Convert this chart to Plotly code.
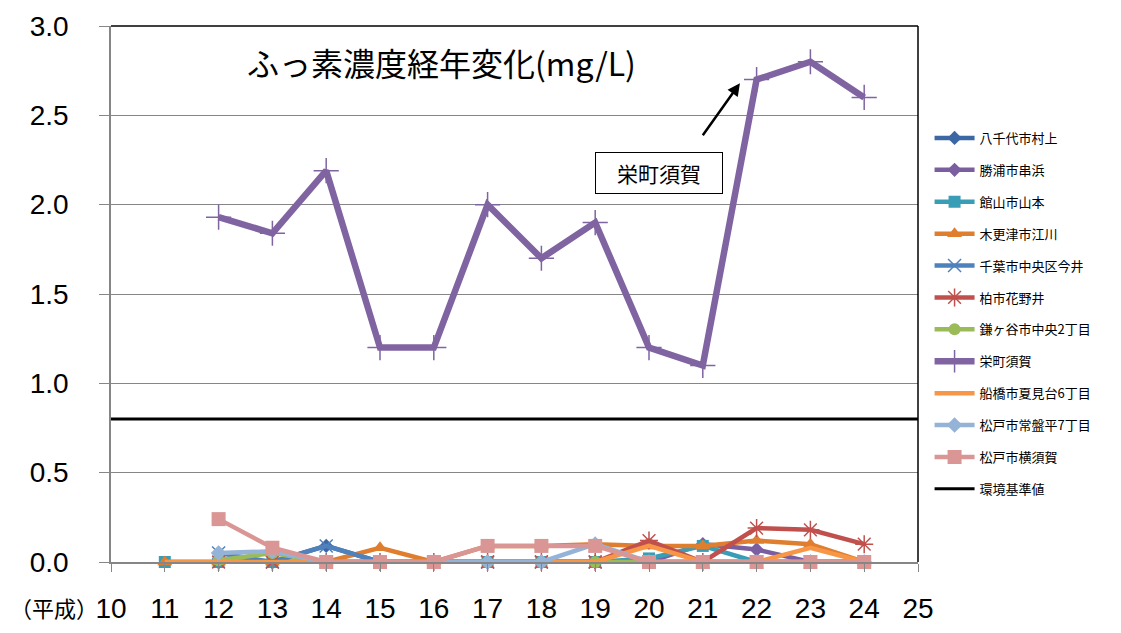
import plotly.graph_objects as go

years = [11, 12, 13, 14, 15, 16, 17, 18, 19, 20, 21, 22, 23, 24]
x_ticks = list(range(10, 26))
y_ticks = [0.0, 0.5, 1.0, 1.5, 2.0, 2.5, 3.0]

yachiyo = [None, 0, 0, 0.09, 0, 0, 0, 0, 0, 0, 0, 0, 0, 0]
katsuura = [None, 0, 0, 0, 0, 0, 0, 0, 0, 0, 0.1, 0.07, 0, 0]
tateyama = [0, 0, 0, 0, 0, 0, 0, 0, 0, 0.02, 0.09, 0, 0, 0]
kisarazu = [0, 0, 0, 0, 0.08, 0, 0.09, 0.09, 0.1, 0.09, 0.09, 0.12, 0.1, 0]
chiba = [None, 0.05, 0, 0.09, 0, 0, 0, 0, 0, 0, 0, 0, 0, 0]
kashiwa = [None, 0, 0, 0, 0, 0, 0, 0, 0, 0.12, 0, 0.19, 0.18, 0.1]
kamagaya = [None, 0.01, 0.05, 0, 0, 0, 0, 0, 0, 0, 0, 0, 0, 0]
sakae = [None, 1.93, 1.84, 2.19, 1.2, 1.2, 2.0, 1.7, 1.9, 1.2, 1.1, 2.7, 2.8, 2.6]
funabashi = [0, 0, 0, 0, 0, 0, 0, 0, 0, 0.09, 0, 0, 0.08, 0]
tokiwadaira = [None, 0.05, 0.06, 0, 0, 0, 0, 0, 0.1, 0, 0, 0, 0, 0]
yokosuka = [None, 0.24, 0.08, 0, 0, 0, 0.09, 0.09, 0.09, 0, 0, 0, 0, 0]
standard_value = 0.8
x_range = [10, 25]

series = [
    ("八千代市村上", yachiyo, "#3C67A5", "diamond", 11, 4.5),
    ("勝浦市串浜", katsuura, "#7B5EA0", "diamond", 11, 4.5),
    ("館山市山本", tateyama, "#3A9DB6", "square", 12, 4.5),
    ("木更津市江川", kisarazu, "#E07E2F", "triangle-up", 13, 4.5),
    ("千葉市中央区今井", chiba, "#4F81BD", "x-thin", 13, 4.5),
    ("柏市花野井", kashiwa, "#C0504D", "asterisk", 15, 4.5),
    ("鎌ヶ谷市中央2丁目", kamagaya, "#9BBB59", "circle", 12, 4.5),
    ("栄町須賀", sakae, "#8064A2", "cross-thin", 18, 6.5),
    ("船橋市夏見台6丁目", funabashi, "#F79646", None, 0, 4.5),
    ("松戸市常盤平7丁目", tokiwadaira, "#95B3D7", "diamond", 12, 4.5),
    ("松戸市横須賀", yokosuka, "#D99694", "square", 14, 4.5),
]

fig = go.Figure()
for name, vals, color, sym, size, lw in series:
    if sym is None:
        mode = "lines"
        marker = dict()
    else:
        mode = "lines+markers"
        if sym in ("x-thin", "asterisk", "cross-thin"):
            marker = dict(symbol=sym, size=size, color=color,
                          line=dict(color=color, width=1.5))
        else:
            marker = dict(symbol=sym, size=size, color=color)
    fig.add_trace(go.Scatter(
        x=years, y=vals, name=name, mode=mode, marker=marker,
        line=dict(color=color, width=lw), cliponaxis=False,
        legendgroup=name,
    ))

fig.add_trace(go.Scatter(
    x=x_range, y=[standard_value, standard_value], name="環境基準値",
    mode="lines", line=dict(color="black", width=3), legendgroup="std",
))

axis_gray = "#868686"
fig.update_layout(
    width=1113, height=625,
    margin=dict(l=103, r=203, t=18, b=71, autoexpand=False),
    paper_bgcolor="white", plot_bgcolor="white",
    font=dict(family="Liberation Sans, Noto Sans CJK JP", color="black"),
    showlegend=True,
    legend=dict(
        xref="container", yref="container",
        x=0.828, y=0.816, xanchor="left", yanchor="top",
        font=dict(family="Noto Sans CJK JP", size=13, color="black"),
        tracegroupgap=12, bgcolor="rgba(0,0,0,0)",
        itemwidth=40, maxheight=600,
    ),
    xaxis=dict(
        range=x_range, tickmode="array", tickvals=x_ticks,
        ticktext=[str(v) for v in x_ticks],
        showgrid=False, zeroline=False, automargin=False,
        showline=True, linecolor=axis_gray, linewidth=1.5,
        ticks="outside", ticklen=8, tickcolor=axis_gray, tickwidth=1,
        tickfont=dict(size=28, family="Liberation Sans"),
        ticklabelstandoff=13,
    ),
    yaxis=dict(
        range=[0, 3], tickmode="array", tickvals=y_ticks,
        ticktext=[f"{v:.1f}" for v in y_ticks],
        showgrid=True, gridcolor=axis_gray, gridwidth=1,
        zeroline=False, automargin=False,
        showline=True, linecolor=axis_gray, linewidth=1.5,
        ticks="outside", ticklen=10, tickcolor=axis_gray, tickwidth=1,
        tickfont=dict(size=28, family="Liberation Sans"),
        ticklabelstandoff=25,
    ),
    shapes=[
        dict(type="line", xref="paper", yref="paper", x0=0, x1=1, y0=1, y1=1,
             line=dict(color="black", width=1.5)),
        dict(type="line", xref="paper", yref="paper", x0=1, x1=1, y0=0, y1=1,
             line=dict(color="black", width=1.5)),
    ],
    annotations=[
        dict(text="ふっ素濃度経年変化(mg/L)", xref="paper", yref="paper",
             x=0.166, y=0.933, xanchor="left", yanchor="middle",
             showarrow=False,
             font=dict(family="Noto Sans CJK JP", size=32, color="black")),
        dict(text="（平成）", xref="paper", yref="paper",
             x=-0.128, y=-0.084, xanchor="left", yanchor="middle",
             showarrow=False,
             font=dict(family="Noto Sans CJK JP", size=22, color="black")),
        dict(text="栄町須賀", x=20.18, y=2.18, xref="x", yref="y",
             showarrow=False, bordercolor="black", borderwidth=1,
             bgcolor="white", width=122, height=36, borderpad=2,
             font=dict(family="Noto Sans CJK JP", size=21, color="black")),
        dict(text="", x=21.69, y=2.68, xref="x", yref="y",
             ax=20.98, ay=2.38, axref="x", ayref="y",
             showarrow=True, arrowhead=2, arrowsize=1, arrowwidth=2.5,
             arrowcolor="black"),
    ],
)

fig.write_html("out.html")
